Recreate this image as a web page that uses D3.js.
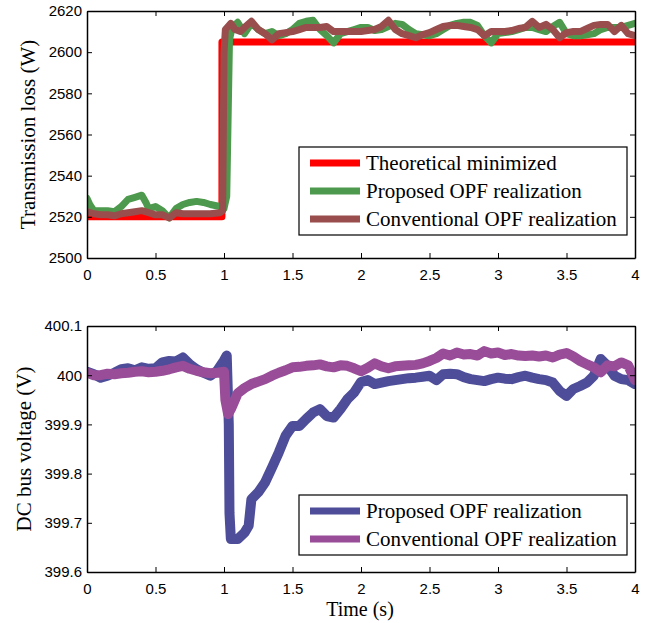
<!DOCTYPE html>
<html>
<head>
<meta charset="utf-8">
<script src="https://cdn.jsdelivr.net/npm/d3@7"></script>
<style>
  body { margin: 0; background: #fff; }
  .tick text { font-family: "Liberation Sans", Arial, sans-serif; font-size: 15px; fill: #000; }
  .lbl { font-family: "Liberation Serif", "Times New Roman", serif; font-size: 21px; fill: #000; }
</style>
</head>
<body>
<div id="chart"></div>
<script>
/* CONSTANTS AND GLOBALS */
const width = 651,
  height = 623;

/* DATA - [time (s), value] */
const timeTicks = [0, 0.5, 1, 1.5, 2, 2.5, 3, 3.5, 4];
const lossTicks = [2500, 2520, 2540, 2560, 2580, 2600, 2620];
const voltTicks = [399.6, 399.7, 399.8, 399.9, 400, 400.1];

const theoreticalLoss = [[0, 2520], [0.985, 2520], [0.985, 2605], [4, 2605]];

const proposedLoss = [[0,2529],[0.02,2526],[0.05,2523],[0.1,2523],[0.15,2523],[0.2,2522.5],[0.25,2525],[0.3,2528.5],
  [0.35,2529.5],[0.4,2530.5],[0.43,2527],[0.45,2524],[0.5,2525],[0.55,2523],[0.6,2519.5],[0.65,2524],[0.7,2526],
  [0.75,2527],[0.8,2527.5],[0.85,2527],[0.9,2526],[0.97,2525],[1.0,2524],[1.02,2530],[1.04,2606],[1.06,2612],
  [1.1,2614.5],[1.15,2609],[1.2,2614],[1.25,2611],[1.3,2609],[1.35,2610],[1.4,2608],[1.45,2609],[1.5,2611],
  [1.55,2614],[1.6,2615],[1.65,2615.5],[1.7,2611],[1.75,2608],[1.8,2604.5],[1.85,2609],[1.9,2610],[1.95,2611],
  [2.0,2612],[2.05,2612],[2.1,2610.5],[2.15,2611],[2.2,2612.5],[2.25,2614],[2.3,2613.5],[2.35,2611],[2.4,2609],
  [2.45,2608.5],[2.5,2608],[2.55,2609],[2.6,2611],[2.65,2613],[2.7,2614],[2.75,2614.5],[2.8,2614.5],[2.85,2613],
  [2.9,2608],[2.95,2604.5],[3.0,2609],[3.05,2609.5],[3.1,2610],[3.15,2611],[3.2,2612],[3.25,2612],[3.3,2611],
  [3.35,2610],[3.4,2612.5],[3.45,2614.5],[3.5,2609],[3.55,2608],[3.6,2608],[3.65,2608.5],[3.7,2609],[3.75,2611],
  [3.8,2612],[3.85,2612],[3.9,2612],[3.95,2613],[4.0,2614]];

const conventionalLoss = [[0,2522.5],[0.05,2521.5],[0.1,2521],[0.15,2521],[0.2,2520.5],[0.25,2521.5],[0.3,2522],
  [0.35,2522.5],[0.4,2523],[0.45,2522],[0.5,2521],[0.55,2521],[0.6,2519.5],[0.65,2522],[0.7,2521.5],[0.75,2521.5],
  [0.8,2521.5],[0.85,2521.5],[0.9,2521.5],[0.97,2522],[0.99,2523],[1.0,2600],[1.01,2611],[1.05,2614],[1.08,2611],
  [1.12,2610],[1.15,2612],[1.2,2615],[1.25,2611],[1.3,2609],[1.35,2606],[1.4,2609],[1.45,2609.5],[1.5,2610],
  [1.55,2611],[1.6,2612],[1.65,2612],[1.7,2612],[1.75,2612.5],[1.8,2610],[1.85,2610],[1.9,2610],[1.95,2610],
  [2.0,2610],[2.05,2610.5],[2.1,2611],[2.15,2612.5],[2.2,2615.5],[2.25,2611],[2.3,2609],[2.35,2608],[2.4,2607],
  [2.45,2608.5],[2.5,2609.5],[2.55,2611],[2.6,2612.5],[2.65,2613],[2.7,2613],[2.75,2612.5],[2.8,2612],[2.85,2611],
  [2.9,2608],[2.95,2610],[3.0,2610],[3.05,2610],[3.1,2610.5],[3.15,2611.5],[3.2,2612],[3.25,2615],[3.3,2612],
  [3.35,2613.5],[3.4,2611],[3.45,2607],[3.5,2609.5],[3.55,2610],[3.6,2610],[3.65,2611.5],[3.7,2613],[3.75,2613.5],
  [3.8,2613.5],[3.85,2610],[3.9,2613],[3.95,2609],[4.0,2608]];

const proposedVolt = [[0,400.007],[0.05,400.002],[0.1,399.995],[0.15,399.999],[0.2,400.005],[0.25,400.012],
  [0.3,400.014],[0.35,400.010],[0.4,400.016],[0.45,400.013],[0.5,400.014],[0.55,400.026],[0.6,400.029],
  [0.65,400.028],[0.7,400.036],[0.75,400.022],[0.8,400.012],[0.85,400.005],[0.9,399.999],[0.95,400.009],
  [1.0,400.03],[1.02,400.04],[1.035,399.9],[1.04,399.72],[1.05,399.667],[1.1,399.667],[1.15,399.68],
  [1.18,399.694],[1.2,399.748],[1.25,399.762],[1.3,399.782],[1.35,399.812],[1.4,399.843],[1.45,399.877],
  [1.5,399.897],[1.55,399.897],[1.6,399.911],[1.65,399.924],[1.7,399.931],[1.75,399.917],[1.8,399.914],
  [1.85,399.931],[1.9,399.951],[1.95,399.965],[2.0,399.986],[2.05,399.99],[2.1,399.982],[2.15,399.985],
  [2.2,399.988],[2.25,399.99],[2.3,399.992],[2.35,399.994],[2.4,399.995],[2.45,399.997],[2.5,399.999],
  [2.55,399.99],[2.6,400.002],[2.65,400.003],[2.7,400.002],[2.75,399.996],[2.8,399.992],[2.85,399.99],
  [2.9,399.988],[2.95,399.992],[3.0,399.995],[3.05,399.993],[3.1,399.992],[3.15,399.996],[3.2,399.999],
  [3.25,399.995],[3.3,399.992],[3.35,399.99],[3.4,399.985],[3.45,399.968],[3.5,399.958],[3.55,399.972],
  [3.6,399.978],[3.65,399.985],[3.7,399.999],[3.75,400.033],[3.8,400.019],[3.85,399.999],[3.9,399.992],
  [3.95,399.99],[4.0,399.982]];

const conventionalVolt = [[0,400.005],[0.05,400.0],[0.1,400.0],[0.15,400.003],[0.2,400.002],[0.25,400.004],
  [0.3,400.005],[0.35,400.007],[0.4,400.008],[0.45,400.006],[0.5,400.007],[0.55,400.009],[0.6,400.012],
  [0.65,400.016],[0.7,400.019],[0.75,400.013],[0.8,400.009],[0.85,400.006],[0.9,400.004],[0.95,400.005],
  [1.0,400.007],[1.01,399.95],[1.03,399.921],[1.05,399.931],[1.08,399.95],[1.1,399.963],[1.15,399.974],
  [1.2,399.982],[1.25,399.987],[1.3,399.992],[1.35,399.999],[1.4,400.005],[1.45,400.01],[1.5,400.016],
  [1.55,400.017],[1.6,400.019],[1.65,400.02],[1.7,400.022],[1.75,400.018],[1.8,400.016],[1.85,400.02],
  [1.9,400.019],[1.95,400.014],[2.0,400.008],[2.05,400.015],[2.1,400.024],[2.15,400.018],[2.2,400.014],
  [2.25,400.018],[2.3,400.019],[2.35,400.02],[2.4,400.021],[2.45,400.024],[2.5,400.029],[2.55,400.035],
  [2.6,400.044],[2.65,400.04],[2.7,400.046],[2.75,400.042],[2.8,400.043],[2.85,400.04],[2.9,400.049],
  [2.95,400.044],[3.0,400.046],[3.05,400.041],[3.1,400.043],[3.15,400.04],[3.2,400.039],[3.25,400.04],
  [3.3,400.038],[3.35,400.04],[3.4,400.036],[3.45,400.042],[3.5,400.045],[3.55,400.038],[3.6,400.029],
  [3.65,400.022],[3.7,400.016],[3.75,400.006],[3.8,400.02],[3.85,400.018],[3.9,400.026],[3.95,400.02],
  [4.0,399.99]];

const topSeries = [
  { name: "Theoretical minimized", data: theoreticalLoss, color: "#ff0000" },
  { name: "Proposed OPF realization", data: proposedLoss, color: "#4d994d" },
  { name: "Conventional OPF realization", data: conventionalLoss, color: "#994d4d" }
];
const bottomSeries = [
  { name: "Proposed OPF realization", data: proposedVolt, color: "#4d4d99" },
  { name: "Conventional OPF realization", data: conventionalVolt, color: "#994d99" }
];

const svg = d3.select("#chart")
  .append("svg")
  .attr("width", width)
  .attr("height", height);

// draws one MATLAB style panel with box, inward ticks and a legend
function panel(opt) {
  const x = d3.scaleLinear().domain([0, 4]).range([87, 635]);
  const y = d3.scaleLinear().domain(opt.domain).range([opt.bottom, opt.top]);
  const g = svg.append("g");

  const clipId = "clip" + opt.top;
  svg.append("clipPath").attr("id", clipId)
    .append("rect")
    .attr("x", x(0)).attr("y", y(opt.domain[1]))
    .attr("width", x(4) - x(0)).attr("height", y(opt.domain[0]) - y(opt.domain[1]));

  const line = d3.line().x(d => x(d[0])).y(d => y(d[1]));
  g.append("g").attr("clip-path", `url(#${clipId})`)
    .selectAll("path")
    .data(opt.series)
    .join("path")
    .attr("d", d => line(d.data))
    .attr("fill", "none")
    .attr("stroke", d => d.color)
    .attr("stroke-width", opt.lineWidth)
    .attr("stroke-linejoin", "round")
    .attr("stroke-linecap", "round");

  // axes, ticks inward on all four sides
  g.append("g")
    .attr("transform", `translate(0,${opt.bottom})`)
    .call(d3.axisBottom(x).tickValues(timeTicks).tickSizeInner(-5).tickSizeOuter(0).tickPadding(11).tickFormat(d3.format("")));
  g.append("g")
    .attr("transform", `translate(0,${opt.top})`)
    .call(d3.axisTop(x).tickValues(timeTicks).tickSizeInner(-5).tickSizeOuter(0).tickFormat(""));
  g.append("g")
    .attr("transform", `translate(${x(0)},0)`)
    .call(d3.axisLeft(y).tickValues(opt.ticks).tickSizeInner(-5).tickSizeOuter(0).tickPadding(5).tickFormat(d3.format("")));
  g.append("g")
    .attr("transform", `translate(${x(4)},0)`)
    .call(d3.axisRight(y).tickValues(opt.ticks).tickSizeInner(-5).tickSizeOuter(0).tickFormat(""));
  g.selectAll(".domain").attr("stroke", "#000").attr("stroke-width", 1.5);
  g.selectAll(".tick line").attr("stroke", "#000").attr("stroke-width", 1);

  // y label
  g.append("text")
    .attr("class", "lbl")
    .attr("transform", `translate(${opt.labelX},${(opt.top + opt.bottom) / 2}) rotate(-90)`)
    .attr("text-anchor", "middle")
    .attr("dy", "0.35em")
    .text(opt.label);

  // legend
  const lg = g.append("g").attr("transform", `translate(299,${opt.legendY})`);
  lg.append("rect")
    .attr("width", 328)
    .attr("height", opt.series.length * 28 + 4)
    .attr("fill", "#fff")
    .attr("stroke", "#000")
    .attr("stroke-width", 1.2);
  const item = lg.selectAll(".item")
    .data(opt.series)
    .join("g")
    .attr("transform", (d, i) => `translate(0,${16 + i * 28})`);
  item.append("line")
    .attr("x1", 11).attr("x2", 61)
    .attr("stroke", d => d.color)
    .attr("stroke-width", 7);
  item.append("text")
    .attr("class", "lbl")
    .attr("x", 67)
    .attr("dy", "0.35em")
    .text(d => d.name);
}

panel({ domain: [2500, 2620], ticks: lossTicks, top: 11, bottom: 258, series: topSeries,
  lineWidth: 7, label: "Transmission loss (W)", labelX: 28, legendY: 147 });
panel({ domain: [399.6, 400.1], ticks: voltTicks, top: 326, bottom: 572, series: bottomSeries,
  lineWidth: 10, label: "DC bus voltage (V)", labelX: 24, legendY: 495 });

svg.append("text")
  .attr("class", "lbl")
  .attr("x", 360)
  .attr("y", 616)
  .style("font-size", "20px")
  .attr("text-anchor", "middle")
  .text("Time (s)");
</script>
</body>
</html>
